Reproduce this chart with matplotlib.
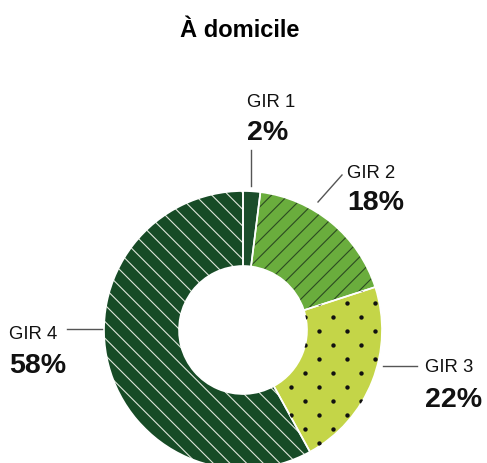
import matplotlib
matplotlib.use('Agg')
import matplotlib.pyplot as plt
import numpy as np

plt.rcParams['font.family'] = ['Liberation Sans', 'DejaVu Sans']
plt.rcParams['hatch.linewidth'] = 0.8

# data
labels = ['GIR 1', 'GIR 2', 'GIR 3', 'GIR 4']
values = [2, 18, 22, 58]
pct_labels = ['2%', '18%', '22%', '58%']
title = 'À domicile'

colors = ['#1b4d2b', '#6aad3d', '#c4d548', '#174b26']
hatches = ['', '//', '', '\\\\']
hatch_colors = ['#1b4d2b', '#2c4a22', '#c4d548', '#dfe6da']

W, H = 487, 463
fig = plt.figure(figsize=(W / 100, H / 100), dpi=100)
ax = fig.add_axes([0, 0, 1, 1])

# work in pixel units, y measured from the bottom
cx, cy = 243, H - 330
r_out, r_in = 139, 64

wedges, _ = ax.pie(values, startangle=90, counterclock=False, radius=r_out,
                   center=(cx, cy), colors=colors,
                   wedgeprops=dict(width=r_out - r_in, linewidth=0))
for w, h, hc in zip(wedges, hatches, hatch_colors):
    w.set_edgecolor(hc)
    w.set_linewidth(0)
    if h:
        w.set_hatch(h)

# white separators between slices
ax.pie(values, startangle=90, counterclock=False, radius=r_out, center=(cx, cy),
       wedgeprops=dict(width=r_out - r_in, fill=False, edgecolor='white', linewidth=1.2))

# dot texture on GIR 3
xs, ys = [], []
for k in range(-20, 20):
    for j in range(-10, 10):
        xs.append(347 + 28 * j + (14 if k % 2 else 0))
        ys.append(H - (303 + 14 * k))
dots = ax.scatter(xs, ys, s=10, color='#111111', linewidths=0, zorder=3)
dots.set_clip_path(wedges[2])

# leader lines and labels (pixel positions, top origin)
lines = [((250.5, 150), (250.5, 186)),
         ((318, 202), (342, 175)),
         ((383, 366), (417, 366)),
         ((67, 329), (102, 329))]
name_pos = [(247, 107), (347, 178), (425, 372), (9, 339)]
pct_pos = [(247, 140), (347, 210), (425, 407), (9, 373)]

for (p0, p1), (nx, ny), (px, py), name, pct in zip(lines, name_pos, pct_pos, labels, pct_labels):
    ax.plot([p0[0], p1[0]], [H - p0[1], H - p1[1]], color='#555555', lw=1)
    ax.text(nx, H - ny, name, fontsize=13.3, va='baseline', ha='left', color='#111111')
    ax.text(px, H - py, pct, fontsize=20.5, fontweight='bold', va='baseline', ha='left', color='#111111')

ax.text(240, H - 37, title, fontsize=17, fontweight='bold', ha='center', va='baseline')

ax.set_xlim(0, W)
ax.set_ylim(0, H)
ax.set_aspect('equal', adjustable='box')
ax.axis('off')

fig.savefig('out.png', dpi=100)
